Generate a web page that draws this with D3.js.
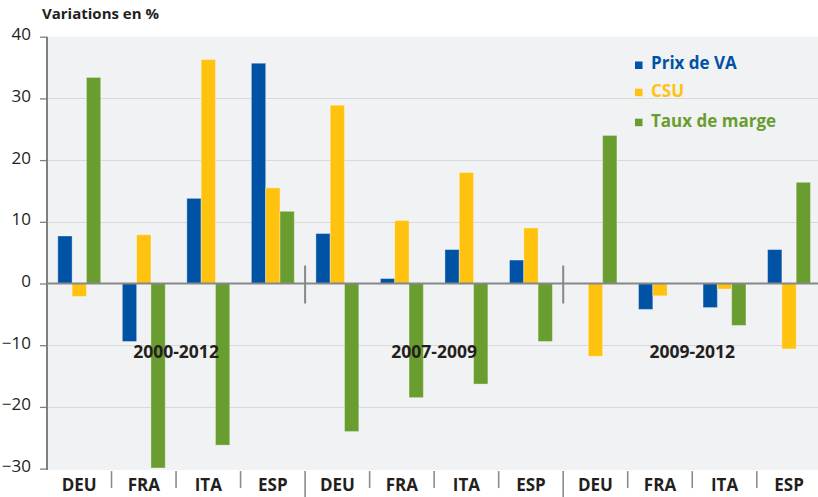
<!DOCTYPE html>
<html>
<head>
<meta charset="utf-8">
<script src="https://cdn.jsdelivr.net/npm/d3@7"></script>
<style>
  html, body { margin: 0; padding: 0; background: #ffffff; }
  svg { display: block; font-family: "Open Sans", "DejaVu Sans", sans-serif; }
</style>
</head>
<body>
<svg id="chart" width="818" height="497"></svg>
<script>
// Countries repeated across the three periods
const countries = ["DEU", "FRA", "ITA", "ESP", "DEU", "FRA", "ITA", "ESP", "DEU", "FRA", "ITA", "ESP"];
const periods = ["2000-2012", "2007-2009", "2009-2012"];
const seriesNames = ["Prix de VA", "CSU", "Taux de marge"];
const seriesColors = ["#0052a5", "#ffc20e", "#6a9d2f"];

// Variations en % per series, in country order above
const prixVA      = [7.7, -9.4, 13.8, 35.7,   8.1, 0.8, 5.5, 3.8,    0.0, -4.2, -3.9, 5.5];
const csu         = [-2.1, 7.9, 36.3, 15.5,  28.9, 10.2, 18.0, 9.0, -11.8, -2.0, -0.9, -10.6];
const tauxMarge   = [33.4, -29.9, -26.2, 11.7, -24.0, -18.5, -16.3, -9.4, 24.0, 0.0, -6.8, 16.4];

const yTicks = [40, 30, 20, 10, 0, -10, -20, -30];

const seriesValues = [prixVA, csu, tauxMarge];

const W = 818, H = 497;
const plotLeft = 47, plotRight = 821.3, plotTop = 36.7, plotBottom = 468.6;

const svg = d3.select("#chart");

const x0 = d3.scaleBand()
  .domain(d3.range(countries.length))
  .range([plotLeft, plotRight])
  .paddingInner(0).paddingOuter(0);

const x1 = d3.scaleBand()
  .domain(seriesNames)
  .range([0, x0.bandwidth()])
  .paddingInner(0).paddingOuter(0.755);

const y = d3.scaleLinear().domain([-30, 40]).range([plotBottom, plotTop]);

const ink = "#231f20";

// plot background
svg.append("rect")
  .attr("x", plotLeft).attr("y", y(40))
  .attr("width", W - plotLeft).attr("height", y(-30) - y(40) + 1.5)
  .attr("fill", "#f1f2f4");

// horizontal gridlines
svg.append("g").selectAll("line")
  .data(yTicks.filter(t => t !== 0 && t !== 40 && t !== -30))
  .join("line")
  .attr("x1", plotLeft).attr("x2", W)
  .attr("y1", d => Math.round(y(d)) + 0.5).attr("y2", d => Math.round(y(d)) + 0.5)
  .attr("stroke", "#d8d9dc").attr("stroke-width", 1.2);

// y axis
const yAxis = d3.axisLeft(y).tickValues(yTicks).tickSize(7).tickPadding(9).tickFormat(d3.format("d"));
const gy = svg.append("g").attr("transform", `translate(${plotLeft},0)`).call(yAxis);
gy.select(".domain").attr("stroke", "#7f7f7f").attr("stroke-width", 2)
  .attr("d", `M0,${y(40)}V${y(-30) + 1.5}`);
gy.selectAll(".tick line").attr("stroke", "#7f7f7f").attr("stroke-width", 1.3);
gy.selectAll(".tick text")
  .attr("fill", ink).attr("font-size", 17).attr("dy", "0.18em")
  .attr("font-family", "'Open Sans', sans-serif");

// bars
const bars = [];
seriesNames.forEach((s, si) => {
  seriesValues[si].forEach((v, ci) => {
    if (v !== 0) bars.push({ s, si, ci, v });
  });
});

svg.append("g").selectAll("rect")
  .data(bars)
  .join("rect")
  .attr("x", d => x0(d.ci) + x1(d.s))
  .attr("width", x1.bandwidth())
  .attr("y", d => y(Math.max(0, d.v)))
  .attr("height", d => Math.abs(y(d.v) - y(0)))
  .attr("fill", d => seriesColors[d.si])
  .attr("stroke", "rgba(255,255,255,0.35)")
  .attr("stroke-width", 1);

// zero line
svg.append("line")
  .attr("x1", plotLeft).attr("x2", W)
  .attr("y1", y(0)).attr("y2", y(0))
  .attr("stroke", "#878787").attr("stroke-width", 2);

// period separators across the zero line
const periodBounds = [4, 8].map(i => x0(i));
svg.append("g").selectAll("line")
  .data(periodBounds)
  .join("line")
  .attr("x1", d => d).attr("x2", d => d)
  .attr("y1", y(0) - 18).attr("y2", y(0) + 20)
  .attr("stroke", "#878787").attr("stroke-width", 2);

// bottom category axis
const gx = svg.append("g");
gx.selectAll("line")
  .data(d3.range(1, countries.length))
  .join("line")
  .attr("x1", i => x0(i)).attr("x2", i => x0(i))
  .attr("y1", plotBottom + 2.5)
  .attr("y2", i => (i % 4 === 0) ? H : plotBottom + 19.5)
  .attr("stroke", "#8c8c8c").attr("stroke-width", 1.6);

gx.selectAll("text")
  .data(countries)
  .join("text")
  .attr("x", (d, i) => x0(i) + x0.bandwidth() / 2)
  .attr("y", 491)
  .attr("text-anchor", "middle")
  .attr("font-size", 17).attr("font-weight", 700)
  .attr("fill", ink)
  .text(d => d);

// period labels
svg.append("g").selectAll("text")
  .data(periods)
  .join("text")
  .attr("x", (d, i) => x0(i * 4 + 2))
  .attr("y", 358)
  .attr("text-anchor", "middle")
  .attr("font-size", 17.5).attr("font-weight", 700)
  .attr("fill", ink)
  .text(d => d);

// title
svg.append("text")
  .attr("x", 42).attr("y", 18.5)
  .attr("font-size", 15).attr("font-weight", 700)
  .attr("fill", ink)
  .text("Variations en %");

// legend
const legend = svg.append("g");
const legendY = [69.3, 96.5, 126.5];
seriesNames.forEach((s, i) => {
  legend.append("rect")
    .attr("x", 635).attr("y", legendY[i] - 7.8)
    .attr("width", 7.5).attr("height", 7.5)
    .attr("fill", seriesColors[i]);
  legend.append("text")
    .attr("x", 651).attr("y", legendY[i])
    .attr("font-size", 17).attr("font-weight", 700)
    .attr("fill", seriesColors[i])
    .text(s);
});
</script>
</body>
</html>
